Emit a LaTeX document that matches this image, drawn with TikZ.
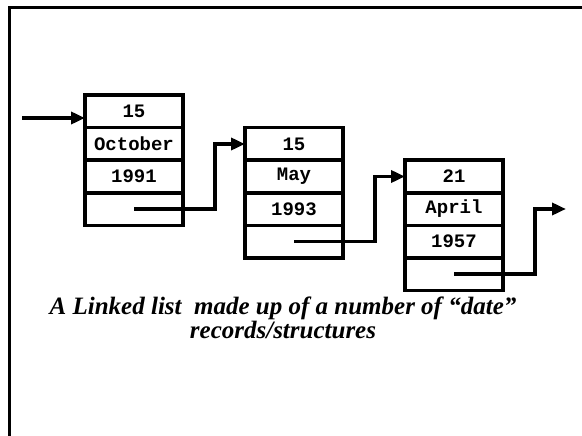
\documentclass[tikz,border=0pt]{standalone}
\usepackage{fontspec}
\setmainfont{Liberation Serif}
\newfontfamily\recfont{Liberation Mono}
\usetikzlibrary{positioning,arrows.meta}

\begin{document}
\begin{tikzpicture}[x=1pt,y=-1pt,
            field/.style={rectangle, draw, line width=3.5pt, minimum width=98pt,
                   minimum height=32.5pt, inner sep=0pt, outer sep=0pt,
                   font=\recfont\bfseries\fontsize{19}{20}\selectfont},
            arrow/.style={-{Triangle[length=14pt,width=12pt]}, line width=3.5pt},
            frame/.style={line width=3pt}
        ]
            \useasboundingbox (0,0) rectangle (582,436);
            \draw [frame] (9.5,436) -- (9.5,7.5) -- (582,7.5);

            % first record
            \node [field] (r1a) at (134,111.5) {15};
            \node [field,below=0pt of r1a] (r1b) {October};
            \node [field,below=0pt of r1b] (r1c) {1991};
            \node [field,below=0pt of r1c] (r1d) {};

            % second record
            \node [field,below right=0pt and 62pt of r1a] (r2a) {15};
            \node [field,below=0pt of r2a] (r2b) {May};
            \node [field,below=0pt of r2b] (r2c) {1993};
            \node [field,below=0pt of r2c] (r2d) {};

            % third record
            \node [field,below right=0pt and 62pt of r2a] (r3a) {21};
            \node [field,below=0pt of r3a] (r3b) {April};
            \node [field,below=0pt of r3b] (r3c) {1957};
            \node [field,below=0pt of r3c] (r3d) {};

            \coordinate (head) at (22,118);
            \coordinate [right=63pt of r3b] (nil);

            % Draw links
            \draw [arrow] (head) -- (head -| r1a.west);
            \draw [arrow] (r1d.center) -- ++(81,0) |- (r2a.west);
            \draw [arrow] (r2d.center) -- ++(81,0) |- (r3a.west);
            \draw [arrow] (r3d.center) -- ++(81,0) |- (nil);

            \node [font=\bfseries\itshape\fontsize{25}{24}\selectfont, align=center] (caption) at (283,318)
                {A Linked list\ \ made up of a number of “date”\\ records/structures};
        \end{tikzpicture}
\end{document}
